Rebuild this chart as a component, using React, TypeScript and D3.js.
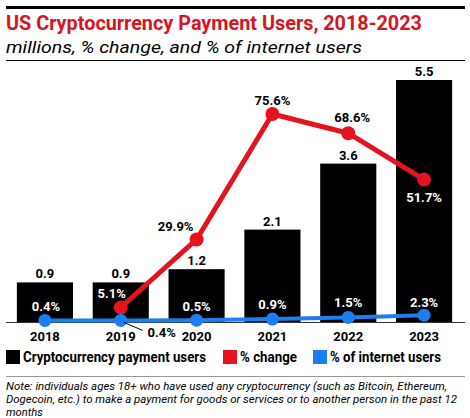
import React from "react";
import * as d3 from "d3";

const years = ["2018", "2019", "2020", "2021", "2022", "2023"];
const users = [0.9, 0.9, 1.2, 2.1, 3.6, 5.5];
const pctChange: (number | null)[] = [null, 5.1, 29.9, 75.6, 68.6, 51.7];
const pctInternet = [0.4, 0.4, 0.5, 0.9, 1.5, 2.3];

const title = "US Cryptocurrency Payment Users, 2018-2023";
const subtitle = "millions, % change, and % of internet users";
const legendItems = [
  { label: "Cryptocurrency payment users", color: "#000000" },
  { label: "% change", color: "#e3141f" },
  { label: "% of internet users", color: "#1b7ff2" },
];
const noteLines = [
  "Note: individuals ages 18+ who have used any cryptocurrency (such as Bitcoin, Ethereum,",
  "Dogecoin, etc.) to make a payment for goods or services or to another person in the past 12",
  "months",
];

// layout (not data)
const legendX = [6, 223, 313];
const legendTextLen = [183, 57, 111];
const noteTextLen = [441, 451, 37];

const redLabelOffsets = [
  null,
  { dx: -9, dy: -14, fill: "#fff" },
  { dx: -21, dy: -13, fill: "#000" },
  { dx: 0, dy: -14, fill: "#000" },
  { dx: 4, dy: -16, fill: "#000" },
  { dx: 0, dy: 18, fill: "#fff" },
];
const blueLabelOffsets = [
  { dx: 1, dy: -14, fill: "#fff" },
  { dx: 41, dy: 12, fill: "#000" },
  { dx: 0, dy: -14, fill: "#fff" },
  { dx: 0, dy: -15, fill: "#fff" },
  { dx: 0, dy: -15, fill: "#fff" },
  { dx: 0, dy: -13, fill: "#fff" },
];

const RED = "#e3141f";
const BLUE = "#1b7ff2";
const FONT = "Roboto, 'Open Sans', sans-serif";

export default function App() {
  const W = 470;
  const H = 418;
  const base = 322;
  const x = d3
    .scaleBand<string>()
    .domain(years)
    .range([7, 462])
    .paddingInner(0.26)
    .paddingOuter(0.13);
  const y = d3.scaleLinear().domain([0, 5.5]).range([base, 80]);
  const yp = d3.scaleLinear().domain([0, 88]).range([base - 0.5, 80]);
  const cx = (i: number) => (x(years[i]) as number) + x.bandwidth() / 2;

  const redPts = pctChange
    .map((v, i) => (v == null ? null : ([cx(i), yp(v)] as [number, number])))
    .filter((p): p is [number, number] => p != null);
  const bluePts = pctInternet.map((v, i) => [cx(i), yp(v)] as [number, number]);
  const line = d3.line<[number, number]>();

  return (
    <div style={{ position: "absolute", left: 0, top: 0 }}>
      <svg width={W} height={H} style={{ display: "block", background: "#fff" }}>
        <rect x={6} y={6} width={459} height={3} fill="#000" />
        <text
          x={6}
          y={30}
          fontFamily={FONT}
          fontWeight={700}
          fontSize={19.5}
          fill="#d8141f"
          textLength={416}
          lengthAdjust="spacingAndGlyphs"
        >
          {title}
        </text>
        <text
          x={6}
          y={53}
          fontFamily={FONT}
          fontStyle="italic"
          fontSize={17}
          fill="#000"
          textLength={356}
          lengthAdjust="spacingAndGlyphs"
        >
          {subtitle}
        </text>
        <rect x={6} y={60} width={459} height={1} fill="#000" />

        {/* bars */}
        {users.map((v, i) => (
          <g key={years[i]}>
            <rect
              x={x(years[i])}
              y={y(v)}
              width={x.bandwidth()}
              height={base - y(v)}
              fill="#000"
            />
            <text
              x={cx(i)}
              y={y(v) - 4}
              textAnchor="middle"
              fontFamily={FONT}
              fontWeight={700}
              fontSize={13}
              fill="#000"
            >
              {v.toFixed(1)}
            </text>
          </g>
        ))}

        {/* axis */}
        <line x1={6} x2={465} y1={base + 0.5} y2={base + 0.5} stroke="#333" strokeWidth={1} />
        {years.map((yr, i) => (
          <text
            key={yr}
            x={cx(i)}
            y={341}
            textAnchor="middle"
            fontFamily={FONT}
            fontWeight={700}
            fontSize={13}
            fill="#000"
          >
            {yr}
          </text>
        ))}

        {/* red line */}
        <path d={line(redPts) || ""} fill="none" stroke={RED} strokeWidth={5} strokeLinejoin="round" />
        {redPts.map((p, i) => (
          <circle key={i} cx={p[0]} cy={p[1]} r={7} fill={RED} />
        ))}

        {/* blue line */}
        <path d={line(bluePts) || ""} fill="none" stroke={BLUE} strokeWidth={4} strokeLinejoin="round" />
        {bluePts.map((p, i) => (
          <circle key={i} cx={p[0]} cy={p[1]} r={6.5} fill={BLUE} />
        ))}

        {/* leader line for 2019 internet label */}
        <line x1={cx(1) + 3} y1={yp(pctInternet[1]) + 2} x2={cx(1) + 22} y2={yp(pctInternet[1]) + 10} stroke="#000" strokeWidth={1} />

        {/* red labels */}
        {pctChange.map((v, i) => {
          const o = redLabelOffsets[i];
          if (v == null || !o) return null;
          return (
            <text
              key={i}
              x={cx(i) + o.dx}
              y={yp(v) + o.dy}
              textAnchor="middle"
              dominantBaseline="central"
              fontFamily={FONT}
              fontWeight={700}
              fontSize={13}
              fill={o.fill}
            >
              {v.toFixed(1)}%
            </text>
          );
        })}

        {/* blue labels */}
        {pctInternet.map((v, i) => {
          const o = blueLabelOffsets[i];
          return (
            <text
              key={i}
              x={cx(i) + o.dx}
              y={yp(v) + o.dy}
              textAnchor="middle"
              dominantBaseline="central"
              fontFamily={FONT}
              fontWeight={700}
              fontSize={13}
              fill={o.fill}
            >
              {v.toFixed(1)}%
            </text>
          );
        })}

        {/* legend */}
        {legendItems.map((it, i) => (
          <g key={it.label}>
            <rect x={legendX[i]} y={350} width={14} height={14} fill={it.color} />
            <text
              x={legendX[i] + 17}
              y={357}
              dominantBaseline="central"
              fontFamily={FONT}
              fontWeight={700}
              fontSize={14}
              fill="#000"
              textLength={legendTextLen[i]}
              lengthAdjust="spacingAndGlyphs"
            >
              {it.label}
            </text>
          </g>
        ))}

        <rect x={6} y={376} width={459} height={1} fill="#999" />
        {noteLines.map((t, i) => (
          <text
            key={i}
            x={6}
            y={390 + i * 13}
            fontFamily={FONT}
            fontStyle="italic"
            fontSize={11.5}
            fill="#000"
            textLength={noteTextLen[i]}
            lengthAdjust="spacingAndGlyphs"
          >
            {t}
          </text>
        ))}
      </svg>
    </div>
  );
}
